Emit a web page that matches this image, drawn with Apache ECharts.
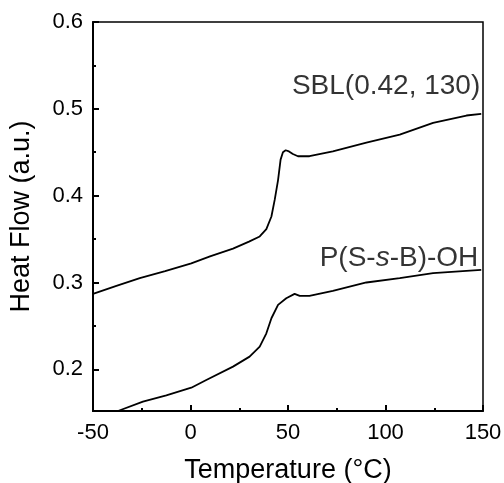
<!DOCTYPE html>
<html>
<head>
<meta charset="utf-8">
<script src="https://cdn.jsdelivr.net/npm/echarts@6/dist/echarts.min.js"></script>
<style>html,body{margin:0;padding:0;background:#fff;}#c{width:504px;height:483px;}</style>
</head>
<body>
<div id="c"></div>
<script>
// Temperature (°C) and heat flow (a.u.)
const sblTemp = [-50, -38, -26, -13, 0.4, 10, 21.8, 30, 35.5, 38.9, 41.5, 43.2, 44.9, 46.2, 47.4, 48.8, 50.5, 52.5, 55.1, 61, 73, 90.2, 107.3, 124.4, 141.5, 149.1];
const sblFlow = [0.287, 0.296, 0.305, 0.313, 0.322, 0.330, 0.339, 0.347, 0.353, 0.3615, 0.376, 0.3954, 0.418, 0.4415, 0.450, 0.4523, 0.451, 0.448, 0.4454, 0.4454, 0.451, 0.461, 0.4704, 0.4838, 0.4923, 0.4942];
const psbTemp = [-40, -37.2, -24.4, -12.4, 0.4, 8.1, 21.8, 30.3, 35.5, 38.9, 41.5, 44.9, 49.1, 53.4, 54.3, 56, 61, 73, 90.2, 107.3, 124.4, 149.1];
const psbFlow = [0.1497, 0.152, 0.1627, 0.170, 0.1788, 0.1877, 0.2031, 0.2146, 0.2262, 0.2415, 0.2588, 0.2742, 0.2819, 0.2869, 0.2877, 0.2846, 0.2846, 0.2904, 0.300, 0.305, 0.3108, 0.3146];
const yMajorTicks = [0.2, 0.3, 0.4, 0.5, 0.6];
const yMinorTicks = [0.25, 0.35, 0.45, 0.55];
const curveLabels = ['SBL(0.42, 130)', 'P(S-s-B)-OH'];
const labelTemp = [148.6, 147.6];
const labelFlow = [0.526, 0.328];

const FONT = 'Liberation Sans, Arial, sans-serif';
const TXT = '#000';
const zip = (a, b) => a.map((v, i) => [v, b[i]]);

const chart = echarts.init(document.getElementById('c'));
chart.setOption({
  animation: false,
  grid: { left: 93, right: 21, top: 22, bottom: 72, containLabel: false, outerBoundsMode: 'none', show: true, borderColor: '#000', borderWidth: 1.5, backgroundColor: 'transparent' },
  xAxis: {
    type: 'value', min: -50, max: 150, interval: 50,
    name: 'Temperature (°C)', nameLocation: 'middle', nameGap: 46,
    nameTextStyle: { fontFamily: FONT, fontSize: 27, color: TXT },
    axisLine: { show: true, onZero: false, lineStyle: { color: '#000', width: 2 } },
    axisTick: { show: true, inside: true, length: 6, lineStyle: { color: '#000', width: 2 } },
    minorTick: { show: true, splitNumber: 2, length: 3, lineStyle: { color: '#000', width: 2 } },
    axisLabel: { fontFamily: FONT, fontSize: 22, color: TXT, margin: 11 },
    splitLine: { show: false }
  },
  yAxis: [{
    type: 'value', min: 0.152, max: 0.6,
    name: 'Heat Flow (a.u.)', nameLocation: 'middle', nameGap: 58,
    nameTextStyle: { fontFamily: FONT, fontSize: 27, color: TXT },
    axisLine: { show: true, onZero: false, lineStyle: { color: '#000', width: 2 } },
    axisTick: { show: true, inside: true, length: 6, customValues: yMajorTicks, lineStyle: { color: '#000', width: 2 } },
    axisLabel: { fontFamily: FONT, fontSize: 22, color: TXT, margin: 10, customValues: yMajorTicks, formatter: v => v.toFixed(1) },
    splitLine: { show: false }
  }, {
    type: 'value', min: 0.152, max: 0.6, position: 'left',
    axisLine: { show: false, onZero: false },
    axisTick: { show: true, inside: true, length: 3, customValues: yMinorTicks, lineStyle: { color: '#000', width: 2 } },
    axisLabel: { show: false },
    splitLine: { show: false }
  }],
  series: [{
    type: 'line', data: zip(sblTemp, sblFlow), showSymbol: false, clip: true,
    lineStyle: { color: '#000', width: 1.8 }
  }, {
    type: 'line', data: zip(psbTemp, psbFlow), showSymbol: false, clip: true,
    lineStyle: { color: '#000', width: 1.8 }
  }, {
    type: 'scatter', symbolSize: 0, silent: true,
    data: curveLabels.map((t, i) => ({ value: [labelTemp[i], labelFlow[i]], name: t })),
    label: {
      show: true, position: 'inside', align: 'right', verticalAlign: 'middle',
      fontFamily: FONT, fontSize: 28, color: TXT,
      formatter: p => p.name === 'P(S-s-B)-OH' ? '{n|P(S-}{i|s}{n|-B)-OH}' : p.name,
      rich: {
        n: { fontFamily: FONT, fontSize: 28, color: TXT },
        i: { fontFamily: FONT, fontSize: 28, color: TXT, fontStyle: 'italic' }
      }
    }
  }]
});
</script>
</body>
</html>
